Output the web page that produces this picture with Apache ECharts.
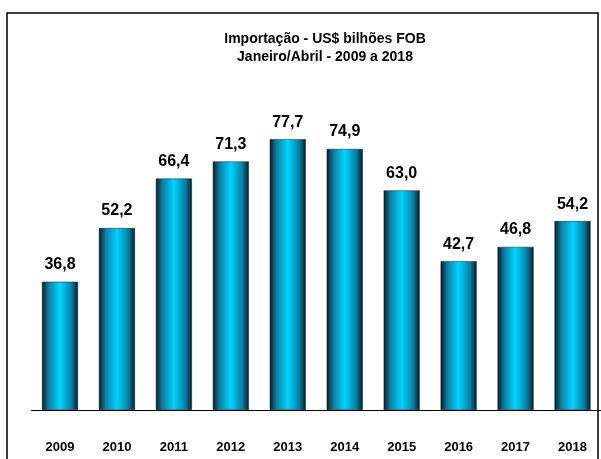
<!DOCTYPE html>
<html>
<head>
<meta charset="utf-8">
<script src="https://cdn.jsdelivr.net/npm/echarts@6/dist/echarts.min.js"></script>
<style>
html,body{margin:0;padding:0;background:#fff;}
#main{width:601px;height:459px;}
</style>
</head>
<body>
<div id="main"></div>
<script>
// anos e valores (US$ bilhões FOB)
var anos = ['2009','2010','2011','2012','2013','2014','2015','2016','2017','2018'];
var valores = [36.8, 52.2, 66.4, 71.3, 77.7, 74.9, 63.0, 42.7, 46.8, 54.2];
var titulo1 = 'Importação - US$ bilhões FOB';
var titulo2 = 'Janeiro/Abril - 2009 a 2018';

var fonte = '"Liberation Sans", Arial, sans-serif';
var myChart = echarts.init(document.getElementById('main'));

//gradiente horizontal tipo cilindro
var corBarra = new echarts.graphic.LinearGradient(0, 0, 1, 0, [
    {offset: 0, color: '#081c24'},
    {offset: 0.18, color: '#0a7ea2'},
    {offset: 0.5, color: '#00d4ff'},
    {offset: 0.82, color: '#0a7ea2'},
    {offset: 1, color: '#081c24'}
]);

var option = {
    animation: false,
    title: {
        text: titulo1 + '\n' + titulo2,
        left: 320,
        top: 25,
        textAlign: 'center',
        textStyle: {
            fontFamily: fonte,
            fontSize: 14,
            fontWeight: 'bold',
            color: '#000',
            lineHeight: 18
        }
    },
    graphic: [{
        type: 'rect',
        shape: {x: 7, y: 13, width: 591, height: 470},
        style: {fill: 'none', stroke: '#000', lineWidth: 1.5},
        silent: true
    }],
    grid: {left: 31.5, right: -1.5, top: 61.5, bottom: 49},
    xAxis: {
        type: 'category',
        data: anos,
        axisTick: {show: false},
        axisLine: {lineStyle: {color: '#000', width: 1}},
        axisLabel: {
            margin: 31,
            fontFamily: fonte,
            fontSize: 13,
            fontWeight: 'bold',
            color: '#000'
        }
    },
    yAxis: {
        type: 'value',
        min: 0,
        max: 100,
        show: false
    },
    series: [{
        type: 'bar',
        data: valores,
        barWidth: 36,
        itemStyle: {color: corBarra, borderColor: '#0a1a20', borderWidth: 0.5},
        label: {
            show: true,
            position: 'top',
            distance: 9,
            formatter: function (p) {
                return p.value.toFixed(1).replace('.', ',');
            },
            fontFamily: fonte,
            fontSize: 16,
            fontWeight: 'bold',
            color: '#000'
        }
    }]
};
myChart.setOption(option);
</script>
</body>
</html>
